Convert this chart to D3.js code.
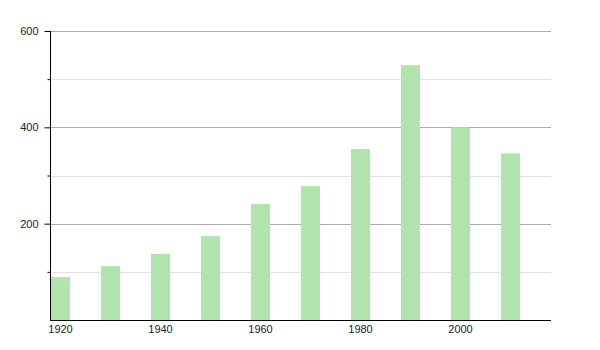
<!DOCTYPE html>
<html><head><meta charset="utf-8">
<script src="https://cdn.jsdelivr.net/npm/d3@7"></script>
<style>body{margin:0;background:#fff;}svg text{font-family:"Liberation Sans",Arial,sans-serif;}</style>
</head><body><svg id="c" width="600" height="350"></svg>
<script>
const years = [1920,1930,1940,1950,1960,1970,1980,1990,2000,2010];
const values = [89,112,137,174,241,278,355,529,400,346];
const xTickLabels = [1920,1940,1960,1980,2000];
const yMajorTicks = [200,400,600];
const yMinorTicks = [100,300,500];

(function(){
const svg = d3.select("#c");
const mLeft = 50, mRight = 551, mTop = 31, mBottom = 320;
const x = d3.scaleLinear().domain([1920,2020]).range([mLeft,mLeft+500]);
const y = d3.scaleLinear().domain([0,600]).range([mBottom,mTop]);
const barW = 19;

// grid
svg.append("g").selectAll("line").data(yMinorTicks).join("line")
  .attr("x1",mLeft).attr("x2",mRight).attr("y1",d=>Math.round(y(d))+0.5).attr("y2",d=>Math.round(y(d))+0.5)
  .attr("stroke","#e2e2e2").attr("stroke-width",1);
svg.append("g").selectAll("line").data(yMajorTicks).join("line")
  .attr("x1",mLeft).attr("x2",mRight).attr("y1",d=>Math.round(y(d))+0.5).attr("y2",d=>Math.round(y(d))+0.5)
  .attr("stroke","#ababab").attr("stroke-width",1);

// bars
svg.append("g").selectAll("rect").data(years).join("rect")
  .attr("x",(d)=>x(d)+1).attr("width",barW)
  .attr("y",(d,i)=>y(values[i])).attr("height",(d,i)=>mBottom-y(values[i]))
  .attr("fill","#b1e4ad");

// y axis
const yAxis = d3.axisLeft(y).tickValues(yMajorTicks).tickSize(6).tickPadding(6);
const gy = svg.append("g").attr("transform",`translate(${mLeft+0.5},0)`).call(yAxis);
gy.select(".domain").attr("d",`M0,${mTop}V${mBottom}`).attr("stroke","#000");
gy.selectAll(".tick line").attr("stroke","#000");
gy.selectAll(".tick text").attr("font-size",11).attr("fill","#222").attr("font-family","Liberation Sans, Arial, sans-serif");
const yMinor = d3.axisLeft(y).tickValues(yMinorTicks).tickSize(3).tickFormat("");
const gym = svg.append("g").attr("transform",`translate(${mLeft+0.5},0)`).call(yMinor);
gym.select(".domain").remove();
gym.selectAll(".tick line").attr("stroke","#000");

// x axis
const xAxis = d3.axisBottom(x).tickValues(xTickLabels).tickSize(0).tickPadding(5).tickFormat(d3.format("d"));
const gx = svg.append("g").attr("transform",`translate(${(barW+1)/2},${mBottom+0.5})`).call(xAxis);
gx.select(".domain").remove();
gx.selectAll(".tick text").attr("font-size",11).attr("fill","#222").attr("font-family","Liberation Sans, Arial, sans-serif");
svg.append("line").attr("x1",mLeft).attr("x2",mRight).attr("y1",mBottom+0.5).attr("y2",mBottom+0.5).attr("stroke","#000");
})();
</script></body></html>
